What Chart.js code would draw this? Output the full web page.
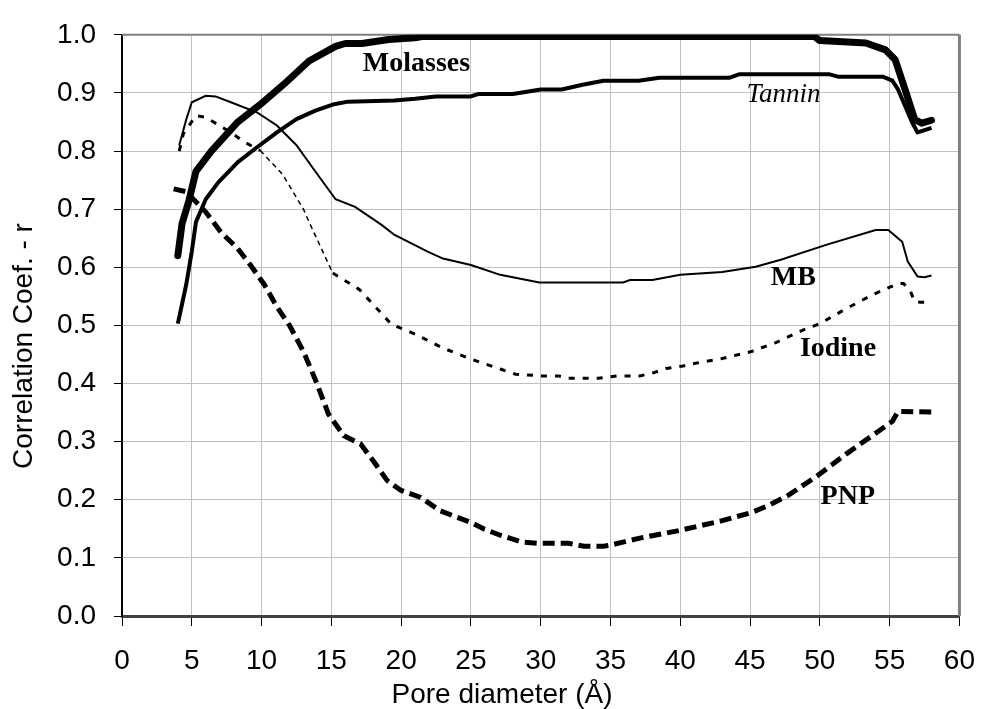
<!DOCTYPE html>
<html>
<head>
<meta charset="utf-8">
<script src="https://cdn.jsdelivr.net/npm/chart.js@4.4.1/dist/chart.umd.min.js"></script>
<style>
  body { margin: 0; background: #fff; }
  #wrap { width: 993px; height: 709px; }
</style>
</head>
<body>
<div id="wrap"><canvas id="poreChart" width="993" height="709"></canvas></div>
<script>
// x ticks / y ticks
const xTicks = [0, 5, 10, 15, 20, 25, 30, 35, 40, 45, 50, 55, 60];
const yTicks = [0, 0.1, 0.2, 0.3, 0.4, 0.5, 0.6, 0.7, 0.8, 0.9, 1.0];

// series (pore diameter, correlation coef.)
const molassesX = [4.0, 4.3, 4.8, 5.3, 6.4, 8.3, 9.9, 11.6, 13.4, 15.3, 16.0, 17.2, 19.1, 21.0, 21.5, 30, 40, 49.6, 50.0, 53.3, 54.7, 55.4, 56.1, 56.8, 57.3, 58.0];
const molassesY = [0.62, 0.675, 0.715, 0.765, 0.80, 0.85, 0.88, 0.915, 0.955, 0.98, 0.985, 0.985, 0.992, 0.995, 0.997, 0.997, 0.997, 0.997, 0.99, 0.986, 0.974, 0.957, 0.906, 0.854, 0.848, 0.853];

const tanninX = [4.0, 4.6, 5.0, 5.3, 6.0, 6.9, 8.3, 9.7, 11.1, 12.5, 13.9, 15.1, 16.2, 19.5, 21.0, 22.5, 25.0, 25.5, 28.0, 30.0, 31.5, 33.0, 34.5, 37.0, 38.5, 43.5, 44.2, 50.7, 51.3, 54.5, 55.2, 55.6, 56.1, 56.6, 57.0, 57.5, 58.0];
const tanninY = [0.503, 0.57, 0.627, 0.678, 0.717, 0.746, 0.781, 0.807, 0.832, 0.855, 0.87, 0.88, 0.885, 0.887, 0.89, 0.894, 0.894, 0.898, 0.898, 0.906, 0.906, 0.914, 0.921, 0.921, 0.926, 0.926, 0.932, 0.932, 0.928, 0.928, 0.921, 0.906, 0.878, 0.85, 0.832, 0.836, 0.84];

const mbX = [4.1, 4.6, 5.0, 6.0, 6.7, 7.8, 9.7, 11.1, 12.5, 13.7, 15.3, 16.7, 18.6, 19.5, 21.9, 23.0, 25.0, 27.1, 29.9, 35.9, 36.4, 38.0, 40.0, 43.0, 45.4, 47.2, 50.5, 54.0, 54.9, 55.9, 56.3, 57.0, 57.5, 58.0];
const mbY = [0.81, 0.854, 0.884, 0.895, 0.894, 0.884, 0.866, 0.844, 0.81, 0.77, 0.717, 0.704, 0.673, 0.656, 0.627, 0.615, 0.604, 0.587, 0.574, 0.574, 0.578, 0.578, 0.587, 0.592, 0.601, 0.613, 0.639, 0.664, 0.664, 0.644, 0.61, 0.584, 0.583, 0.586];

const iodineX = [4.1, 4.4, 5.3, 6.0, 7.8, 8.8, 9.9, 11.5, 13.0, 13.4, 15.1, 17.0, 19.3, 21.0, 23.0, 25.0, 27.1, 28.2, 30.1, 31.3, 32.0, 34.1, 35.5, 37.1, 38.0, 39.0, 40.2, 41.1, 43.0, 45.1, 46.8, 48.9, 50.0, 51.9, 53.8, 55.6, 56.0, 56.5, 56.8, 57.2, 57.5];
const iodineY = [0.80, 0.83, 0.861, 0.858, 0.832, 0.815, 0.801, 0.76, 0.70, 0.678, 0.59, 0.562, 0.502, 0.485, 0.461, 0.442, 0.425, 0.416, 0.413, 0.413, 0.409, 0.409, 0.413, 0.413, 0.418, 0.426, 0.43, 0.435, 0.443, 0.455, 0.47, 0.493, 0.503, 0.529, 0.553, 0.572, 0.572, 0.558, 0.541, 0.54, 0.54];

const pnpX = [3.7, 4.6, 6.0, 7.1, 8.3, 9.2, 10.2, 11.1, 12.0, 13.0, 13.9, 14.8, 15.9, 17.1, 18.0, 19.0, 20.0, 21.4, 22.8, 24.0, 25.0, 25.9, 27.1, 28.7, 29.9, 32.0, 33.1, 34.5, 35.0, 37.1, 39.9, 43.0, 45.1, 46.3, 47.7, 49.8, 51.9, 54.2, 55.2, 55.6, 58.0];
const pnpY = [0.735, 0.73, 0.695, 0.66, 0.632, 0.604, 0.57, 0.532, 0.50, 0.455, 0.404, 0.347, 0.31, 0.296, 0.267, 0.233, 0.216, 0.204, 0.181, 0.17, 0.161, 0.15, 0.139, 0.127, 0.125, 0.125, 0.12, 0.12, 0.122, 0.134, 0.147, 0.164, 0.178, 0.19, 0.207, 0.241, 0.279, 0.318, 0.335, 0.352, 0.351];

// series names and where their names sit on the plot
const seriesNames = ['Molasses', 'Tannin', 'MB', 'Iodine', 'PNP'];
const labelX = [21.1, 47.4, 48.1, 51.3, 52.0];
const labelY = [0.950, 0.896, 0.582, 0.459, 0.205];

const xTitle = 'Pore diameter (Å)';
const yTitle = 'Correlation Coef. - r';

function toPoints(xs, ys) {
    return xs.map((x, i) => ({ x: x, y: ys[i] }));
}

// the steep part of the iodine curve is drawn as a hairline in the original
function iodineSteep(c) {
    return c.p0.parsed.x >= 9.9 && c.p1.parsed.x <= 15.1;
}

// writes the series names next to their curves
const seriesLabels = {
    id: 'seriesLabels',
    afterDatasetsDraw(chart) {
        const ctx = chart.ctx;
        const xs = chart.scales.x;
        const ys = chart.scales.y;
        ctx.save();
        ctx.fillStyle = '#000';
        ctx.textAlign = 'center';
        ctx.textBaseline = 'middle';
        seriesNames.forEach((name, i) => {
            if (name === 'Tannin') {
                ctx.font = 'italic 27px "Liberation Serif"';
            } else {
                ctx.font = 'bold 28px "Liberation Serif"';
            }
            ctx.fillText(name, xs.getPixelForValue(labelX[i]), ys.getPixelForValue(labelY[i]));
        });
        ctx.restore();
    }
};

// grey frame on top and right of the plot area
const plotFrame = {
    id: 'plotFrame',
    beforeDatasetsDraw(chart) {
        const a = chart.chartArea;
        const ctx = chart.ctx;
        ctx.save();
        ctx.strokeStyle = '#808080';
        ctx.lineWidth = 2;
        ctx.beginPath();
        ctx.moveTo(a.left, a.top);
        ctx.lineTo(a.right, a.top);
        ctx.stroke();
        ctx.lineWidth = 3;
        ctx.beginPath();
        ctx.moveTo(a.right, a.top);
        ctx.lineTo(a.right, a.bottom);
        ctx.stroke();
        ctx.restore();
    }
};

// axis titles, centred on the whole picture like the original
const axisTitles = {
    id: 'axisTitles',
    afterDraw(chart) {
        const ctx = chart.ctx;
        ctx.save();
        ctx.fillStyle = '#000';
        ctx.font = '28px "Liberation Sans", Arial';
        ctx.textAlign = 'center';
        ctx.textBaseline = 'middle';
        ctx.fillText(xTitle, 502, 695);
        ctx.translate(24, 346);
        ctx.rotate(-Math.PI / 2);
        ctx.fillText(yTitle, 0, 0);
        ctx.restore();
    }
};

const ctx = document.getElementById('poreChart').getContext('2d');
new Chart(ctx, {
    type: 'line',
    data: {
        datasets: [
            { label: 'Molasses', data: toPoints(molassesX, molassesY), borderColor: '#000', borderWidth: 7, borderCapStyle: 'round', borderJoinStyle: 'round' },
            { label: 'Tannin', data: toPoints(tanninX, tanninY), borderColor: '#000', borderWidth: 4, borderJoinStyle: 'round' },
            { label: 'MB', data: toPoints(mbX, mbY), borderColor: '#000', borderWidth: 2 },
            {
                label: 'Iodine', data: toPoints(iodineX, iodineY), borderColor: '#000', borderWidth: 3, borderDash: [6, 8],
                segment: {
                    borderWidth: c => iodineSteep(c) ? 1.5 : undefined,
                    borderDash: c => iodineSteep(c) ? [5, 4] : undefined
                }
            },
            { label: 'PNP', data: toPoints(pnpX, pnpY), borderColor: '#000', borderWidth: 5, borderDash: [12, 6] }
        ]
    },
    options: {
        responsive: false,
        animation: false,
        events: [],
        layout: { padding: { left: 0, top: 32, right: 18, bottom: 0 } },
        elements: { point: { radius: 0 }, line: { tension: 0, fill: false } },
        plugins: { legend: { display: false }, tooltip: { enabled: false } },
        scales: {
            x: {
                type: 'linear',
                min: 0,
                max: 60,
                afterFit: (scale) => { scale.height = 93; },
                afterBuildTicks: (scale) => { scale.ticks = xTicks.map(v => ({ value: v })); },
                grid: { color: '#c0c0c0', lineWidth: 1, tickColor: '#000', tickLength: 10 },
                border: { color: '#404040', width: 3 },
                ticks: { color: '#000', padding: 18, maxRotation: 0, font: { family: '"Liberation Sans", Arial', size: 28 } }
            },
            y: {
                min: 0,
                max: 1,
                afterFit: (scale) => { scale.width = 122; },
                afterBuildTicks: (scale) => { scale.ticks = yTicks.map(v => ({ value: v })); },
                grid: { color: '#c0c0c0', lineWidth: 1, tickColor: '#000', tickLength: 8 },
                border: { color: '#000', width: 2 },
                ticks: { color: '#000', padding: 18, callback: (v) => Number(v).toFixed(1), font: { family: '"Liberation Sans", Arial', size: 28 } }
            }
        }
    },
    plugins: [plotFrame, seriesLabels, axisTitles]
});
</script>
</body>
</html>
